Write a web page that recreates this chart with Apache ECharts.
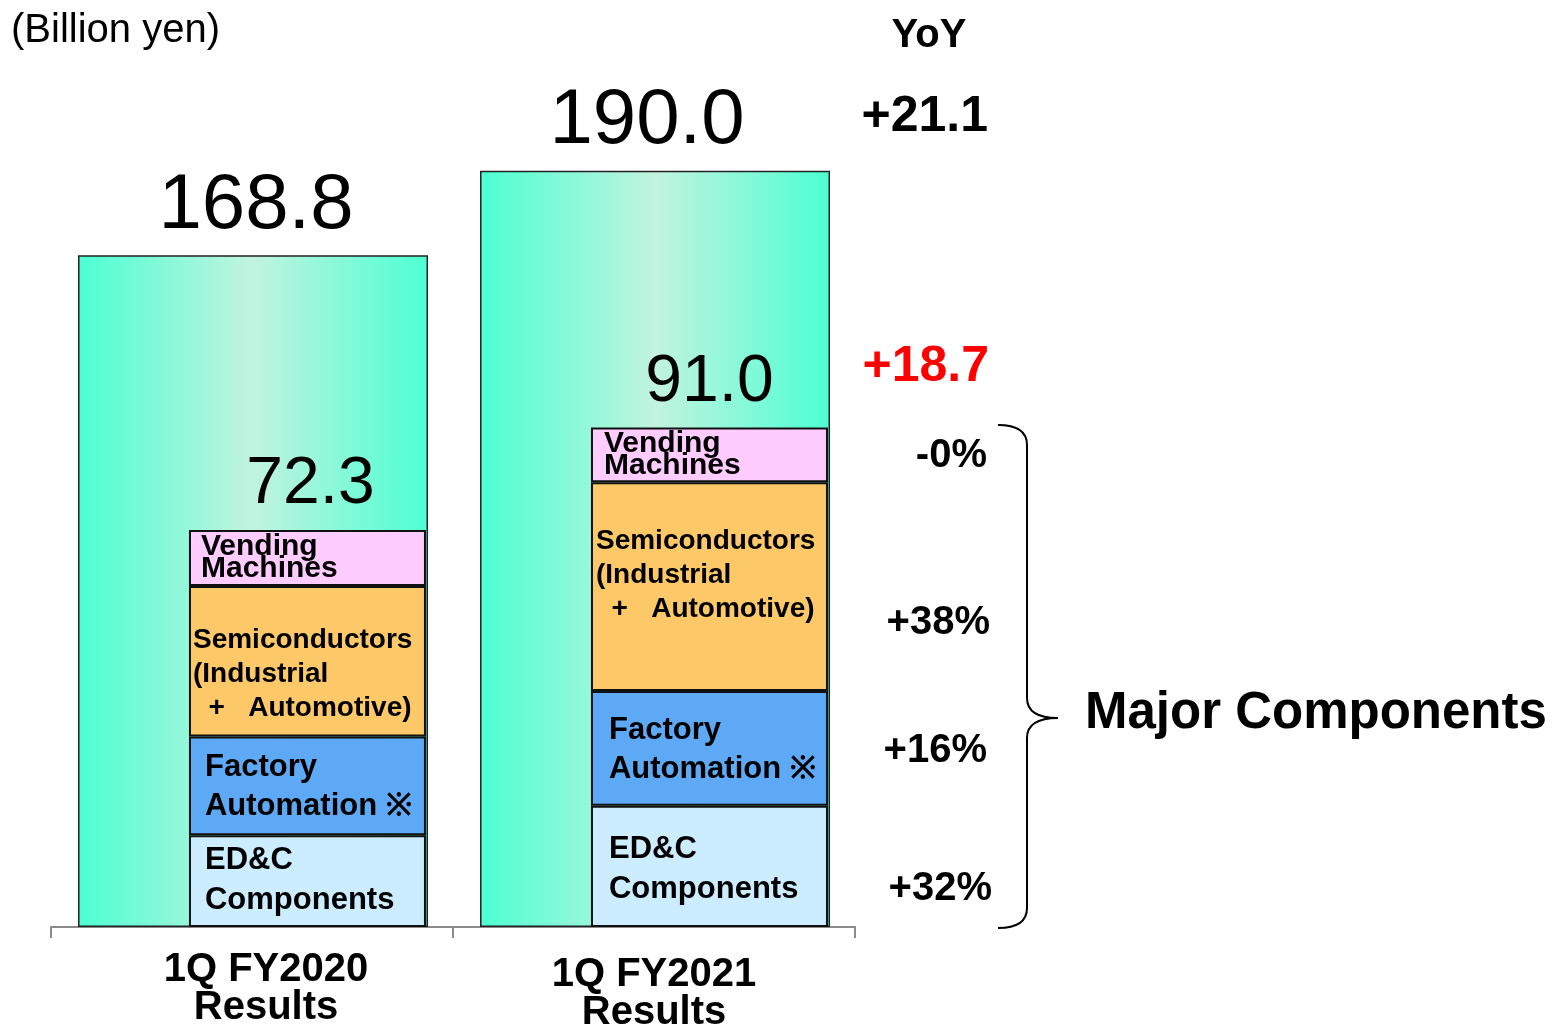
<!DOCTYPE html>
<html><head><meta charset="utf-8">
<script src="https://cdn.jsdelivr.net/npm/echarts@6/dist/echarts.min.js"></script>
<style>html,body{margin:0;padding:0;background:#fff}#c{width:1553px;height:1026px}</style>
</head><body><div id="c"></div>
<script>
const categories = ['1Q FY2020\nResults', '1Q FY2021\nResults'];
const totals = [168.8, 190.0];
const majorTotals = [72.3, 91.0];
const edc = [16.7, 22.1];
const fa = [18.0, 20.9];
const semi = [27.4, 38.0];
const vending = [10.2, 10.0];
const segNames = ['ED&C\nComponents', 'Factory\nAutomation ※', 'Semiconductors\n(Industrial\n  +   Automotive)', 'Vending\nMachines'];
const yoyTotal = '+21.1';
const yoyMajor = '+18.7';
const yoyPct = ['-0%', '+38%', '+16%', '+32%'];
const unitText = '(Billion yen)';
const yoyTitle = 'YoY';
const bracketText = 'Major Components';

const FF = '"Liberation Sans", Arial, sans-serif';
const chart = echarts.init(document.getElementById('c'));

function seg(name, values, color, fontSize, lineHeight, distances, offsets) {
  return {
    name: name, type: 'bar', stack: 'major', yAxisIndex: 1,
    barWidth: 237, barGap: '-68.3%', stackStrategy: 'all',
    itemStyle: { color: color, borderColor: '#111', borderWidth: 2 },
    label: {
      show: true, position: 'insideLeft', formatter: name,
      fontFamily: FF, fontSize: fontSize, fontWeight: 'bold', color: '#000', lineHeight: lineHeight
    },
    data: values.map((v, i) => ({ value: v, label: { distance: distances[i], offset: offsets[i] } }))
  };
}

const braceStyle = { stroke: '#000', lineWidth: 2, fill: null };
const option = {
  animation: false,
  backgroundColor: '#fff',
  grid: { left: 51, right: 698, top: 131, bottom: 99, containLabel: false, outerBoundsMode: 'none' },
  xAxis: {
    type: 'category',
    data: [
      { value: categories[0], textStyle: { padding: [0, 0, 0, 28] } },
      { value: categories[1], textStyle: { padding: [5, 0, 0, 0] } }
    ],
    axisLine: { lineStyle: { color: '#8a8a8a', width: 2 } },
    axisTick: { show: true, length: 11, lineStyle: { color: '#8a8a8a', width: 2 } },
    axisLabel: { fontFamily: FF, fontSize: 40, fontWeight: 'bold', color: '#000', lineHeight: 38, margin: 24 }
  },
  yAxis: [
    { type: 'value', min: 0, max: 200, show: false },
    { type: 'value', min: 0, max: 145, show: false }
  ],
  series: [
    {
      name: 'Total', type: 'bar', yAxisIndex: 0, barWidth: 350, barGap: '-68.3%',
      itemStyle: {
        color: {
          type: 'linear', x: 0, y: 0, x2: 1, y2: 0,
          colorStops: [
            { offset: 0, color: '#4cffd2' },
            { offset: 0.5, color: '#c2f3df' },
            { offset: 1, color: '#4cffd2' }
          ]
        },
        borderColor: '#222', borderWidth: 1.5
      },
      label: {
        show: true, position: 'top', distance: 10,
        formatter: p => p.value.toFixed(1),
        fontFamily: FF, fontSize: 78, color: '#000'
      },
      data: totals.map((v, i) => ({ value: v, label: { offset: [[3, 0], [-8, 0]][i] } }))
    },
    seg(segNames[0], edc, '#ccecff', 31, 40, [16, 18], [[0, -1], [0, 3]]),
    seg(segNames[1], fa, '#5ea9f5', 31, 39, [16, 18], [[0, 1], [0, 2]]),
    seg(segNames[2], semi, '#fdc968', 28, 34, [4, 5], [[0, 13], [0, -11]]),
    seg(segNames[3], vending, '#ffccff', 30, 22, [12, 13], [[0, 0], [0, 0]]),
    {
      name: 'MajorTotal', type: 'bar', stack: 'major', yAxisIndex: 1, barWidth: 237, barGap: '-68.3%',
      stackStrategy: 'all',
      itemStyle: { color: 'rgba(0,0,0,0)', borderWidth: 0 },
      label: {
        show: true, position: 'top', distance: 12,
        formatter: p => majorTotals[p.dataIndex].toFixed(1),
        fontFamily: FF, fontSize: 66, color: '#000'
      },
      data: majorTotals.map((v, i) => ({ value: 0, label: { offset: [[3, 0], [0, 0]][i] } }))
    }
  ],
  graphic: [
    { type: 'text', x: 11, y: 31, style: { text: unitText, font: '40px ' + FF, fill: '#000', align: 'left', verticalAlign: 'middle' } },
    { type: 'text', x: 929, y: 36, style: { text: yoyTitle, font: 'bold 40px ' + FF, fill: '#000', align: 'center', verticalAlign: 'middle' } },
    { type: 'text', x: 988, y: 117, style: { text: yoyTotal, font: 'bold 50px ' + FF, fill: '#000', align: 'right', verticalAlign: 'middle' } },
    { type: 'text', x: 989, y: 367, style: { text: yoyMajor, font: 'bold 50px ' + FF, fill: '#ff0000', align: 'right', verticalAlign: 'middle' } },
    { type: 'text', x: 987, y: 456, style: { text: yoyPct[0], font: 'bold 40px ' + FF, fill: '#000', align: 'right', verticalAlign: 'middle' } },
    { type: 'text', x: 990, y: 623, style: { text: yoyPct[1], font: 'bold 40px ' + FF, fill: '#000', align: 'right', verticalAlign: 'middle' } },
    { type: 'text', x: 987, y: 751, style: { text: yoyPct[2], font: 'bold 40px ' + FF, fill: '#000', align: 'right', verticalAlign: 'middle' } },
    { type: 'text', x: 992, y: 889, style: { text: yoyPct[3], font: 'bold 40px ' + FF, fill: '#000', align: 'right', verticalAlign: 'middle' } },
    { type: 'text', x: 1085, y: 714, style: { text: bracketText, font: 'bold 51px ' + FF, fill: '#000', align: 'left', verticalAlign: 'middle' } },
    { type: 'bezierCurve', shape: { x1: 998, y1: 425, cpx1: 1027, cpy1: 425, x2: 1027, y2: 445 }, style: braceStyle },
    { type: 'line', shape: { x1: 1027, y1: 445, x2: 1027, y2: 698 }, style: braceStyle },
    { type: 'bezierCurve', shape: { x1: 1027, y1: 698, cpx1: 1027, cpy1: 718, x2: 1058, y2: 718 }, style: braceStyle },
    { type: 'bezierCurve', shape: { x1: 1058, y1: 718, cpx1: 1027, cpy1: 718, x2: 1027, y2: 738 }, style: braceStyle },
    { type: 'line', shape: { x1: 1027, y1: 738, x2: 1027, y2: 908 }, style: braceStyle },
    { type: 'bezierCurve', shape: { x1: 1027, y1: 908, cpx1: 1027, cpy1: 928, x2: 998, y2: 928 }, style: braceStyle }
  ]
};
chart.setOption(option);
</script></body></html>
